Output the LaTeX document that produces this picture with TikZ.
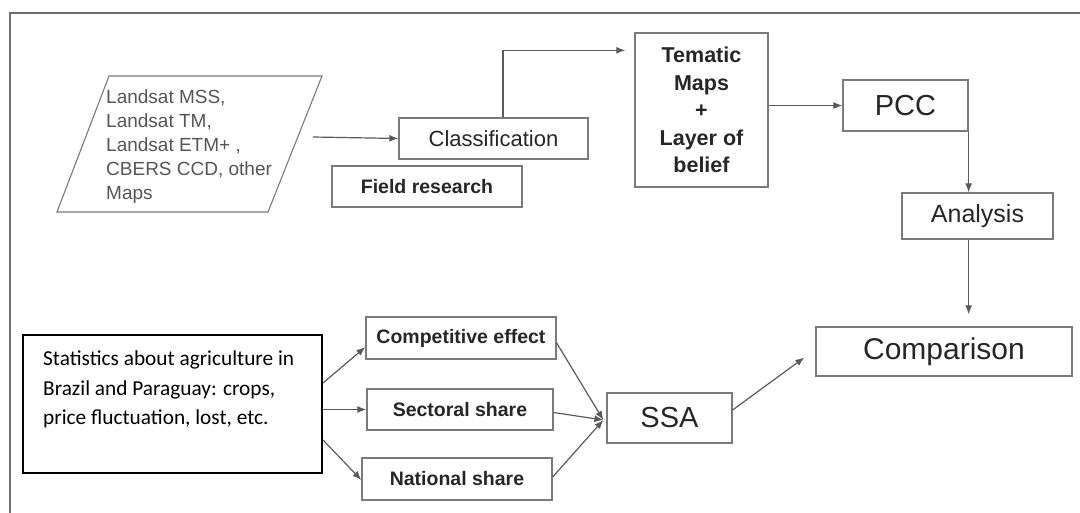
\documentclass[tikz,border=0pt]{standalone}
\usepackage{fontspec}
\setmainfont{Liberation Sans}
\newfontfamily\calibfont{Carlito}
\usetikzlibrary{arrows.meta,calc}
\definecolor{boxgray}{HTML}{7A7A7A}
\definecolor{linegray}{HTML}{5A5A5A}
\definecolor{framegray}{HTML}{6E6E6E}
\definecolor{txt}{HTML}{262626}
\definecolor{srctxt}{HTML}{555555}
\begin{document}
\begin{tikzpicture}[x=1pt,y=-1pt,
  box/.style={draw=boxgray, line width=1.3pt, inner sep=0pt, text=txt, align=center},
  arr/.style={draw=linegray, line width=1.2pt, -{Latex[length=9pt,width=7pt]}},
  fsmall/.style={font=\fontsize{19.5}{23}\selectfont\bfseries},
  fmid/.style={font=\fontsize{22}{27}\selectfont},
  fbig/.style={font=\fontsize{29}{33}\selectfont}]
\useasboundingbox (0,0) rectangle (1080,513);
\clip (0,0) rectangle (1080,513);

% outer frame
\draw[framegray, line width=2pt] (10,13) rectangle (1100,530);

% data sources
\draw[boxgray, line width=1.1pt] (109,76) -- (322,76) -- (268,212) -- (57,212) -- cycle;
\node[anchor=north west, inner sep=0pt, align=left, text=srctxt,
      font=\fontsize{19}{24}\selectfont] (src) at (106,90)
  {Landsat MSS,\\Landsat TM,\\Landsat ETM+ ,\\CBERS CCD, other\\Maps};
\coordinate (srcout) at (313,137);

% upper chain
\node[box, fmid, minimum width=189pt, minimum height=41pt] (cls) at (493.5,138.5) {Classification};
\node[box, fsmall, minimum width=190pt, minimum height=41pt] (fld) at (427,186.5) {Field research};
\node[box, font=\fontsize{21.5}{27.5}\selectfont\bfseries, minimum width=133pt, minimum height=154pt] (tem) at (701.5,110)
  {Tematic\\Maps\\+\\Layer of\\belief};
\node[box, fbig, minimum width=125pt, minimum height=51pt] (pcc) at (905.5,105.5) {PCC};
\node[box, font=\fontsize{25}{29}\selectfont, minimum width=151pt, minimum height=46pt] (ana) at (977.5,216) {Analysis};
\node[box, font=\fontsize{30}{34}\selectfont, minimum width=256pt, minimum height=49pt] (cmp) at (944,351.5) {Comparison};

% lower chain
\node[draw=black, line width=2pt, minimum width=299pt, minimum height=138pt, inner sep=0pt] (stats) at (172.5,404) {};
\node[anchor=north west, inner sep=0pt, align=left, text=black,
      font=\calibfont\fontsize{21.3}{29.5}\selectfont] (statstxt) at (43,351)
  {Statistics about agriculture in\\Brazil and Paraguay: crops,\\price fluctuation, lost, etc.};
\node[box, fsmall, minimum width=190pt, minimum height=42pt] (comp) at (461,338) {Competitive effect};
\node[box, fsmall, minimum width=186pt, minimum height=41pt] (sect) at (460,409.5) {Sectoral share};
\node[box, fsmall, minimum width=190pt, minimum height=42pt] (nat) at (457,479) {National share};
\node[box, fbig, minimum width=125pt, minimum height=50pt] (ssa) at (669.5,418) {SSA};
\coordinate (ssain) at ($(ssa.west)+(-3,2)$);

% connectors, upper part
\draw[arr] (srcout) -- (cls.west);
\draw[arr] ([xshift=9.5pt]cls.north) |- ([xshift=-9pt,yshift=-18pt]tem.north west);
\draw[arr] (tem.east |- pcc.west) -- (pcc.west);
\draw[arr] (pcc.south east) -- (pcc.south east |- ana.north);
\draw[arr] (ana.south -| pcc.east) -- ($(pcc.east |- cmp.north)+(0,-12)$);

% connectors, lower part
\draw[arr] ([yshift=21pt]stats.east) -- ([yshift=-9pt]comp.west);
\draw[arr] (stats.east |- sect.west) -- (sect.west);
\draw[arr] ([yshift=-36pt]stats.east) -- ([yshift=-1pt]nat.west);
\draw[arr] ([yshift=-5pt]comp.east) -- (ssain);
\draw[arr] ([yshift=-3pt]sect.east) -- (ssain);
\draw[arr] ([yshift=2pt]nat.east) -- (ssain);
\draw[arr] ([yshift=8pt]ssa.east) -- ($(cmp.west)+(-11,6)$);
\end{tikzpicture}
\end{document}
